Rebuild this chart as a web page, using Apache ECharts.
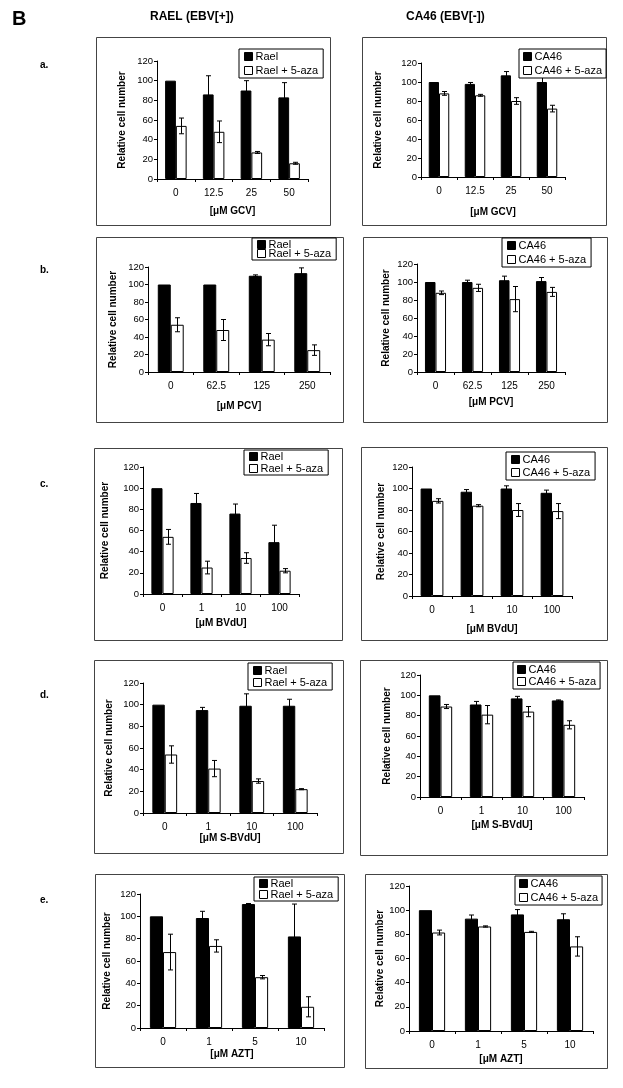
<!DOCTYPE html>
<html><head><meta charset="utf-8">
<script src="https://cdn.jsdelivr.net/npm/echarts@6/dist/echarts.min.js"></script>
<style>html,body{margin:0;padding:0;background:#fff}#c{width:623px;height:1088px}</style>
</head><body><div id="c"></div><script>
// ---------- DATA ----------
const catsGCV = ['0', '12.5', '25', '50'];
const catsPCV = ['0', '62.5', '125', '250'];
const catsBVdU = ['0', '1', '10', '100'];
const catsSBVdU = ['0', '1', '10', '100'];
const catsAZT = ['0', '1', '5', '10'];
const yMin = 0, yMax = 120, yStep = 20;

// a. GCV
const raelGCV = [100, 86, 90, 83];        const raelGCVErr = [0, 19, 10, 15];
const raelAzaGCV = [54, 48, 27, 16];      const raelAzaGCVErr = [8, 11, 1, 1];
const ca46GCV = [100, 98, 107, 100];      const ca46GCVErr = [0, 1.5, 4, 5];
const ca46AzaGCV = [88, 86, 80, 72];      const ca46AzaGCVErr = [2, 1, 3.5, 3.5];
// b. PCV
const raelPCV = [100, 100, 110, 113];     const raelPCVErr = [0, 0, 1, 6];
const raelAzaPCV = [54, 48, 37, 25];      const raelAzaPCVErr = [8, 12, 7, 6];
const ca46PCV = [100, 100, 102, 101];     const ca46PCVErr = [0, 2, 4.5, 4];
const ca46AzaPCV = [88, 93.5, 81, 89];    const ca46AzaPCVErr = [2, 4, 14, 5];
// c. BVdU
const raelBVdU = [100, 86, 76, 49];       const raelBVdUErr = [0, 9, 9, 16];
const raelAzaBVdU = [54, 25, 34, 22];     const raelAzaBVdUErr = [7, 6, 5, 2];
const ca46BVdU = [100, 97, 100, 96];      const ca46BVdUErr = [0, 2, 2.5, 2.5];
const ca46AzaBVdU = [88.5, 84, 80, 79];   const ca46AzaBVdUErr = [2, 1, 6, 7];
// d. S-BVdU
const raelSBVdU = [100, 95, 99, 99];      const raelSBVdUErr = [0, 2.5, 11, 6];
const raelAzaSBVdU = [54, 41, 29.5, 22];  const raelAzaSBVdUErr = [8, 7.5, 2, 0.5];
const ca46SBVdU = [100, 91, 97, 95];      const ca46SBVdUErr = [0, 3, 2, 0.5];
const ca46AzaSBVdU = [89, 81, 84, 71];    const ca46AzaSBVdUErr = [2, 9, 5, 4];
// e. AZT
const raelAZT = [100, 98.5, 111, 82];     const raelAZTErr = [0, 6, 0.5, 29];
const raelAzaAZT = [68, 73.5, 45.5, 19];  const raelAzaAZTErr = [16, 5.5, 1.5, 9];
const ca46AZT = [100, 93, 96.5, 92.5];    const ca46AZTErr = [0, 3, 4, 4.5];
const ca46AzaAZT = [81.5, 86.5, 82, 70];  const ca46AzaAZTErr = [2, 0.5, 0.5, 8];

// ---------- LAYOUT ----------
const FONT = 'Liberation Sans, Arial, sans-serif';
const CAT_GAP = 0.43;
const panels = [
  {cats: catsGCV, n1: 'Rael', n2: 'Rael + 5-aza', v1: raelGCV, e1: raelGCVErr, v2: raelAzaGCV, e2: raelAzaGCVErr, xName: '[μM GCV]',
   grid: {left: 157, top: 61, width: 151, height: 118}, box: [96, 37, 330, 225], lg: {left: 239, top: 49, gap: 3, pad: [2, 5]}, yGap: 30, xGap: 27},
  {cats: catsGCV, n1: 'CA46', n2: 'CA46 + 5-aza', v1: ca46GCV, e1: ca46GCVErr, v2: ca46AzaGCV, e2: ca46AzaGCVErr, xName: '[μM GCV]',
   grid: {left: 421, top: 63, width: 144, height: 114}, box: [362, 37, 606, 225], lg: {left: 519, top: 49, gap: 3, pad: [2, 4]}, yGap: 38, xGap: 30},
  {cats: catsPCV, n1: 'Rael', n2: 'Rael + 5-aza', v1: raelPCV, e1: raelPCVErr, v2: raelAzaPCV, e2: raelAzaPCVErr, xName: '[μM PCV]',
   grid: {left: 148, top: 267, width: 182, height: 105}, box: [96, 237, 343, 422], lg: {left: 252, top: 238, gap: -2, pad: [1, 5]}, yGap: 30, xGap: 29},
  {cats: catsPCV, n1: 'CA46', n2: 'CA46 + 5-aza', v1: ca46PCV, e1: ca46PCVErr, v2: ca46AzaPCV, e2: ca46AzaPCVErr, xName: '[μM PCV]',
   grid: {left: 417, top: 264, width: 148, height: 108}, box: [363, 237, 607, 422], lg: {left: 502, top: 238, gap: 3, pad: [2, 5]}, yGap: 26, xGap: 25},
  {cats: catsBVdU, n1: 'Rael', n2: 'Rael + 5-aza', v1: raelBVdU, e1: raelBVdUErr, v2: raelAzaBVdU, e2: raelAzaBVdUErr, xName: '[μM BVdU]',
   grid: {left: 143, top: 467, width: 156, height: 127}, box: [94, 448, 342, 640], lg: {left: 244, top: 450, gap: 1, pad: [1, 5]}, yGap: 33, xGap: 24},
  {cats: catsBVdU, n1: 'CA46', n2: 'CA46 + 5-aza', v1: ca46BVdU, e1: ca46BVdUErr, v2: ca46AzaBVdU, e2: ca46AzaBVdUErr, xName: '[μM BVdU]',
   grid: {left: 412, top: 467, width: 160, height: 129}, box: [361, 447, 607, 640], lg: {left: 506, top: 452, gap: 2, pad: [2, 5]}, yGap: 26, xGap: 28},
  {cats: catsSBVdU, n1: 'Rael', n2: 'Rael + 5-aza', v1: raelSBVdU, e1: raelSBVdUErr, v2: raelAzaSBVdU, e2: raelAzaSBVdUErr, xName: '[μM S-BVdU]',
   grid: {left: 143, top: 683, width: 174, height: 130}, box: [94, 660, 343, 853], lg: {left: 248, top: 663, gap: 1, pad: [2, 5]}, yGap: 29, xGap: 19},
  {cats: catsSBVdU, n1: 'CA46', n2: 'CA46 + 5-aza', v1: ca46SBVdU, e1: ca46SBVdUErr, v2: ca46AzaSBVdU, e2: ca46AzaSBVdUErr, xName: '[μM S-BVdU]',
   grid: {left: 420, top: 675, width: 164, height: 122}, box: [360, 660, 607, 855], lg: {left: 513, top: 662, gap: 1, pad: [2, 4]}, yGap: 28, xGap: 23},
  {cats: catsAZT, n1: 'Rael', n2: 'Rael + 5-aza', v1: raelAZT, e1: raelAZTErr, v2: raelAzaAZT, e2: raelAzaAZTErr, xName: '[μM AZT]',
   grid: {left: 140, top: 894, width: 184, height: 134}, box: [95, 874, 344, 1067], lg: {left: 254, top: 877, gap: 0, pad: [1, 5]}, yGap: 28, xGap: 21},
  {cats: catsAZT, n1: 'CA46', n2: 'CA46 + 5-aza', v1: ca46AZT, e1: ca46AZTErr, v2: ca46AzaAZT, e2: ca46AzaAZTErr, xName: '[μM AZT]',
   grid: {left: 409, top: 886, width: 184, height: 145}, box: [365, 874, 607, 1068], lg: {left: 515, top: 876, gap: 3, pad: [2, 4]}, yGap: 22, xGap: 23}
];

const grid = [], xAxis = [], yAxis = [], series = [], legend = [], graphic = [];

function errSeries(idx, vals, errs, sign) {
  return {
    type: 'custom', xAxisIndex: idx, yAxisIndex: idx, z: 5, silent: true,
    data: vals.map((v, i) => [i, v, errs[i]]),
    encode: {x: 0, y: 1},
    renderItem: function (params, api) {
      const e = api.value(2);
      if (!e) return null;
      const c = api.coord([api.value(0), api.value(1)]);
      const band = api.size([1, 0])[0];
      const bw = band * (1 - CAT_GAP) / 2;
      const x = Math.round(c[0] + sign * bw / 2) + 0.5;
      const yt = api.coord([api.value(0), api.value(1) + e])[1];
      const yb = api.coord([api.value(0), api.value(1) - e])[1];
      const cap = 2.5;
      const st = {stroke: '#000', lineWidth: 1};
      return {type: 'group', children: [
        {type: 'line', shape: {x1: x, y1: yt, x2: x, y2: yb}, style: st},
        {type: 'line', shape: {x1: x - cap, y1: yt, x2: x + cap, y2: yt}, style: st},
        {type: 'line', shape: {x1: x - cap, y1: yb, x2: x + cap, y2: yb}, style: st}
      ]};
    }
  };
}

panels.forEach((p, i) => {
  grid.push(Object.assign({containLabel: false}, p.grid));
  xAxis.push({
    type: 'category', gridIndex: i, data: p.cats,
    name: p.xName, nameLocation: 'middle', nameGap: p.xGap,
    nameTextStyle: {fontFamily: FONT, fontSize: 10, fontWeight: 'bold', color: '#000'},
    axisLine: {show: true, lineStyle: {color: '#000', width: 1}},
    axisTick: {show: true, length: 3, interval: 0, lineStyle: {color: '#000'}},
    axisLabel: {fontFamily: FONT, fontSize: 10, color: '#000', margin: 9, interval: 0},
    splitLine: {show: false}
  });
  yAxis.push({
    type: 'value', gridIndex: i, min: yMin, max: yMax, interval: yStep,
    name: 'Relative cell number', nameLocation: 'middle', nameGap: p.yGap, nameRotate: 90,
    nameTextStyle: {fontFamily: FONT, fontSize: 10, fontWeight: 'bold', color: '#000'},
    axisLine: {show: true, lineStyle: {color: '#000', width: 1}},
    axisTick: {show: true, length: 3, lineStyle: {color: '#000'}},
    axisLabel: {fontFamily: FONT, fontSize: 9.5, color: '#000', margin: 4},
    splitLine: {show: false}
  });
  series.push({
    type: 'bar', name: p.n1, xAxisIndex: i, yAxisIndex: i, data: p.v1,
    barGap: '0%', barCategoryGap: (CAT_GAP * 100) + '%',
    itemStyle: {color: '#000', borderColor: '#000', borderWidth: 1}, silent: true
  });
  series.push({
    type: 'bar', name: p.n2, xAxisIndex: i, yAxisIndex: i, data: p.v2,
    barGap: '0%', barCategoryGap: (CAT_GAP * 100) + '%',
    itemStyle: {color: '#fff', borderColor: '#000', borderWidth: 1}, silent: true
  });
  series.push(errSeries(i, p.v1, p.e1, -1));
  series.push(errSeries(i, p.v2, p.e2, 1));
  legend.push({
    data: [p.n1, p.n2], orient: 'vertical', left: p.lg.left, top: p.lg.top,
    itemWidth: 8, itemHeight: 8, itemGap: p.lg.gap, padding: p.lg.pad,
    borderColor: '#000', borderWidth: 1, backgroundColor: '#fff', borderRadius: 0,
    icon: 'rect', selectedMode: false, z: 10,
    itemStyle: {borderColor: '#000', borderWidth: 1},
    textStyle: {fontFamily: FONT, fontSize: 11, color: '#000', padding: [0, 0, 0, -2]}
  });
  const b = p.box;
  graphic.push({type: 'rect', silent: true, z: -1,
    shape: {x: b[0] + 0.5, y: b[1] + 0.5, width: b[2] - b[0], height: b[3] - b[1]},
    style: {fill: 'none', stroke: '#444', lineWidth: 1}});
});

const headers = [
  {text: 'B', x: 12, y: 9, size: 20},
  {text: 'RAEL (EBV[+])', x: 150, y: 11, size: 12},
  {text: 'CA46 (EBV[-])', x: 406, y: 11, size: 12},
  {text: 'a.', x: 40, y: 60, size: 10},
  {text: 'b.', x: 40, y: 265, size: 10},
  {text: 'c.', x: 40, y: 479, size: 10},
  {text: 'd.', x: 40, y: 690, size: 10},
  {text: 'e.', x: 40, y: 895, size: 10}
];
headers.forEach(h => graphic.push({type: 'text', silent: true, x: h.x, y: h.y,
  style: {text: h.text, fontFamily: FONT, fontSize: h.size, fontWeight: 'bold', fill: '#000'}}));

const chart = echarts.init(document.getElementById('c'), null, {renderer: 'canvas'});
chart.setOption({animation: false, backgroundColor: '#fff', grid, xAxis, yAxis, series, legend, graphic});
</script></body></html>
